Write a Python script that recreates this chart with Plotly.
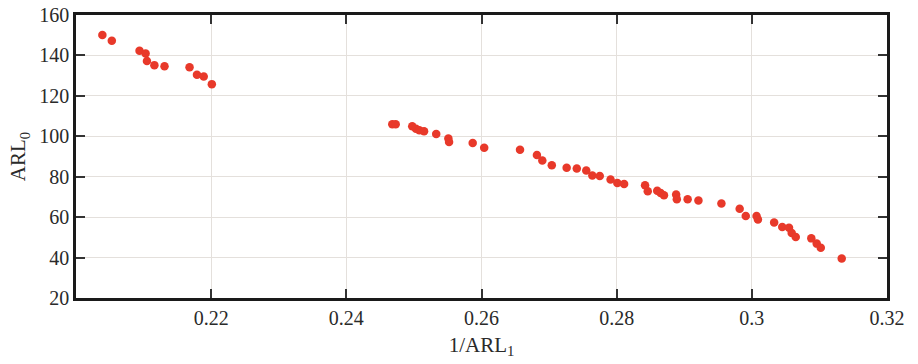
import plotly.graph_objects as go

inv_arl1 = [0.2039, 0.2053, 0.2094, 0.2103, 0.2105, 0.2116, 0.2131, 0.2168, 0.2179, 0.2189, 0.2201,
            0.2468, 0.2473, 0.24975, 0.2503, 0.2508, 0.2515, 0.2533, 0.2551, 0.2552, 0.2587, 0.2604,
            0.2657, 0.2682, 0.2690, 0.2704, 0.2726, 0.2741, 0.2755, 0.2764, 0.2775, 0.2791, 0.2801, 0.2811,
            0.2842, 0.2846, 0.2860, 0.2865, 0.2870, 0.2888, 0.2889, 0.2905, 0.2921, 0.2955, 0.2982,
            0.2991, 0.3007, 0.3009, 0.3033, 0.3045, 0.3055, 0.3059, 0.3065, 0.3088, 0.3096, 0.3102, 0.3133]
arl0 = [150.1, 147.3, 142.3, 141.0, 137.2, 135.2, 134.6, 134.2, 130.4, 129.6, 125.8,
        106.0, 106.0, 105.0, 103.7, 103.0, 102.5, 101.1, 98.9, 97.2, 96.7, 94.3,
        93.3, 90.7, 88.0, 85.7, 84.4, 84.1, 83.1, 80.6, 80.3, 78.6, 76.9, 76.4,
        75.8, 72.8, 73.0, 72.0, 70.8, 71.2, 68.9, 68.9, 68.2, 66.7, 64.1,
        60.6, 60.6, 58.8, 57.3, 55.1, 54.8, 52.2, 50.2, 49.5, 46.9, 44.9, 39.5]

x_tickvals = [0.22, 0.24, 0.26, 0.28, 0.30, 0.32]
x_ticktext = ["0.22", "0.24", "0.26", "0.28", "0.3", "0.32"]
y_tickvals = [20, 40, 60, 80, 100, 120, 140, 160]

font = "Liberation Serif, Times New Roman, serif"

fig = go.Figure()
fig.add_trace(go.Scatter(
    x=inv_arl1, y=arl0, mode="markers",
    marker=dict(color="#e8392a", size=8.5, line=dict(width=0)),
    showlegend=False,
))

axis_common = dict(
    showline=True, linecolor="#1a1a1a", linewidth=2.5, mirror="ticks",
    ticks="inside", ticklen=9, tickwidth=1.5, tickcolor="#333333",
    showgrid=True, gridcolor="#e4e0dc", gridwidth=1, zeroline=False,
    automargin=False,
    tickfont=dict(family=font, size=20, color="#2a2a2a"),
)

fig.update_xaxes(range=[0.2, 0.32], tickvals=x_tickvals, ticktext=x_ticktext,
                 title=dict(text="1/ARL<sub>1</sub>", font=dict(family=font, size=21, color="#2a2a2a"), standoff=10),
                 **axis_common)
fig.update_yaxes(range=[20, 160], tickvals=y_tickvals,
                 title=dict(text="ARL<sub>0</sub>", font=dict(family=font, size=21, color="#2a2a2a"), standoff=8),
                 **axis_common)

fig.update_layout(
    width=918, height=364,
    margin=dict(l=76, r=31, t=15, b=66),
    paper_bgcolor="white", plot_bgcolor="white",
)

fig.write_html("out.html", config={"displayModeBar": False},
               post_script="document.body.style.margin='0';document.body.style.overflow='hidden';")
